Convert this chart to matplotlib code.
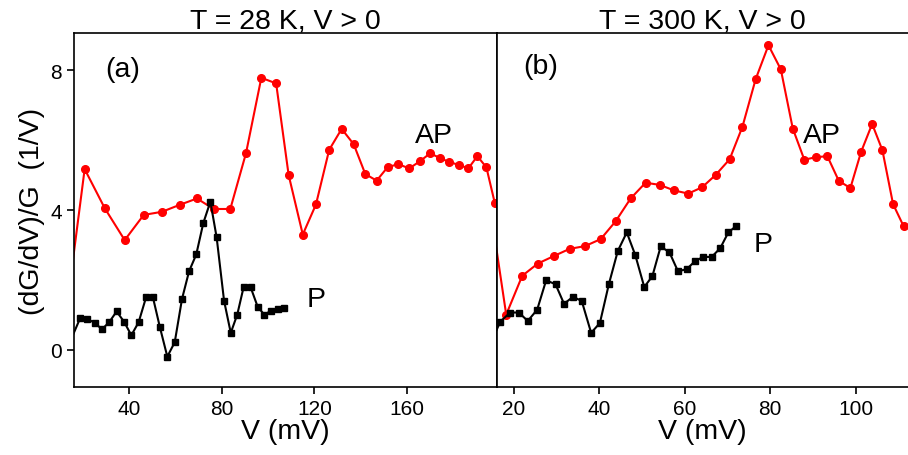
import matplotlib
matplotlib.use("Agg")
import matplotlib.pyplot as plt

plt.rcParams['font.family'] = ['Liberation Sans', 'DejaVu Sans']

# panel (a): T = 28 K
va_ap = [12, 20.8, 29.5, 38.1, 46.3, 54.2, 61.9, 69.3, 76.5, 83.7, 90.5, 97.1,
         103.5, 108.9, 115.0, 120.7, 126.4, 131.8, 137.0, 142.0, 146.9, 151.7,
         156.3, 161.0, 165.5, 170.0, 174.2, 178.3, 182.5, 186.5, 190.4, 194.3, 197.9]
ga_ap = [0.65, 5.17, 4.05, 3.14, 3.86, 3.95, 4.15, 4.33, 4.03, 4.03, 5.63, 7.78,
         7.62, 5.00, 3.30, 4.16, 5.72, 6.32, 5.88, 5.03, 4.84, 5.23,
         5.31, 5.19, 5.39, 5.62, 5.49, 5.37, 5.29, 5.19, 5.54, 5.22, 4.21]
va_p = [14, 18.8, 21.8, 25.1, 28.3, 31.45, 34.6, 37.8, 40.95, 44.1, 47.3, 50.3,
        53.3, 56.5, 59.7, 62.85, 65.9, 69.0, 72.05, 75.1, 77.8, 81.0, 83.9,
        86.7, 89.5, 92.5, 95.55, 98.4, 101.3, 104.2, 107.0]
ga_p = [0.16, 0.90, 0.89, 0.78, 0.59, 0.80, 1.10, 0.81, 0.42, 0.79, 1.50, 1.50,
        0.65, -0.19, 0.22, 1.46, 2.25, 2.73, 3.63, 4.24, 3.22, 1.41, 0.49,
        1.01, 1.81, 1.79, 1.23, 1.01, 1.12, 1.17, 1.21]

# panel (b): T = 300 K
vb_ap = [14, 18.15, 21.9, 25.55, 29.4, 33.0, 36.65, 40.3, 43.8, 47.3, 50.8, 54.1,
         57.5, 60.8, 64.05, 67.2, 70.5, 73.5, 76.6, 79.6, 82.5, 85.3, 88.0,
         90.75, 93.4, 96.1, 98.8, 101.3, 103.9, 106.3, 108.8, 111.3]
gb_ap = [4.41, 1.01, 2.12, 2.47, 2.69, 2.89, 2.97, 3.17, 3.68, 4.33, 4.78, 4.72,
         4.56, 4.47, 4.65, 5.00, 5.45, 6.38, 7.74, 8.71, 8.02, 6.33, 5.44,
         5.51, 5.54, 4.83, 4.63, 5.66, 6.46, 5.71, 4.17, 3.53]
vb_p = [14, 16.75, 19.1, 21.1, 23.2, 25.4, 27.5, 29.7, 31.7, 33.8, 35.85, 38.05,
        40.1, 42.2, 44.3, 46.4, 48.4, 50.5, 52.4, 54.35, 56.4, 58.4, 60.45,
        62.4, 64.3, 66.3, 68.3, 70.2, 72.1]
gb_p = [0.04, 0.81, 1.07, 1.07, 0.83, 1.15, 1.99, 1.88, 1.32, 1.52, 1.40, 0.49,
        0.77, 1.88, 2.83, 3.36, 2.71, 1.80, 2.11, 2.96, 2.79, 2.25, 2.31,
        2.54, 2.66, 2.66, 2.91, 3.36, 3.55]

fig = plt.figure(figsize=(9.08, 4.56), dpi=100)
ax1 = fig.add_axes([0.0815, 0.149, 0.4659, 0.7764])
ax2 = fig.add_axes([0.5474, 0.149, 0.4526, 0.7764])

FS = 20.5

for ax in (ax1, ax2):
    ax.set_ylim(-1.06, 9.06)
    ax.set_yticks([0, 4, 8])
    ax.tick_params(direction='out', length=5, width=1.2, labelsize=15)
    for s in ax.spines.values():
        s.set_linewidth(1.2)
    ax.set_xlabel("V (mV)", fontsize=FS, labelpad=0)

# left panel
ax1.plot(va_ap, ga_ap, '-o', color='#ff0000', lw=1.5, ms=5.5)
ax1.plot(va_p, ga_p, '-s', color='black', lw=1.5, ms=5)
ax1.set_xlim(16.2, 198.9)
ax1.set_xticks([40, 80, 120, 160])
ax1.set_ylabel("(dG/dV)/G  (1/V)", fontsize=FS, labelpad=4)
ax1.set_title("T = 28 K, V > 0", fontsize=FS, pad=3)
ax1.text(37.4, 8.03, "(a)", fontsize=FS, ha='center', va='center')
ax1.text(171.7, 5.94, "AP", fontsize=FS, ha='center', va='baseline')
ax1.text(120.7, 1.26, "P", fontsize=FS, ha='center', va='baseline')

# right panel
ax2.plot(vb_ap, gb_ap, '-o', color='#ff0000', lw=1.5, ms=5.5)
ax2.plot(vb_p, gb_p, '-s', color='black', lw=1.5, ms=5)
ax2.set_xlim(16.0, 112.3)
ax2.set_xticks([20, 40, 60, 80, 100])
ax2.tick_params(axis='y', left=False, labelleft=False)
ax2.spines['right'].set_visible(False)
ax2.set_title("T = 300 K, V > 0", fontsize=FS, pad=3)
ax2.text(26.2, 8.11, "(b)", fontsize=FS, ha='center', va='center')
ax2.text(92.2, 5.94, "AP", fontsize=FS, ha='center', va='baseline')
ax2.text(78.3, 2.83, "P", fontsize=FS, ha='center', va='baseline')

fig.savefig("out.png", dpi=100)
